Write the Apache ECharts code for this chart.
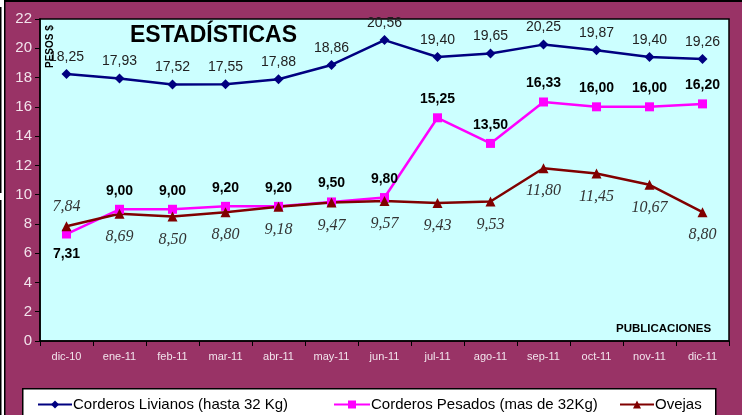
<!DOCTYPE html>
<html><head><meta charset="utf-8">
<script src="https://cdn.jsdelivr.net/npm/echarts@6/dist/echarts.min.js"></script>
<style>html,body{margin:0;padding:0;background:#fff}#c{width:742px;height:415px}</style>
</head><body><div id="c"></div>
<script>
var categories = ['dic-10','ene-11','feb-11','mar-11','abr-11','may-11','jun-11','jul-11','ago-11','sep-11','oct-11','nov-11','dic-11'];
var livianos = [18.25,17.93,17.52,17.55,17.88,18.86,20.56,19.40,19.65,20.25,19.87,19.40,19.26];
var pesados = [7.31,9.00,9.00,9.20,9.20,9.50,9.80,15.25,13.50,16.33,16.00,16.00,16.20];
var ovejas = [7.84,8.69,8.50,8.80,9.18,9.47,9.57,9.43,9.53,11.80,11.45,10.67,8.80];
var names = ['Corderos Livianos (hasta 32 Kg)','Corderos Pesados (mas de 32Kg)','Ovejas'];
var yTicks = [0,22,2];

function fmt(v){ return v.toFixed(2).replace('.', ','); }

var chart = echarts.init(document.getElementById('c'), null, {renderer:'canvas'});
var sans = 'Arial, "Liberation Sans", sans-serif';
var serif = '"Times New Roman", "Liberation Serif", serif';

function mk(arr, firstPos){
  return arr.map(function(v,i){
    var o = {value:v};
    if(i===0 && firstPos){ o.label = firstPos; }
    return o;
  });
}

var option = {
  backgroundColor: '#993366',
  animation: false,
  grid: {left:40, right:13, top:19, bottom:74, show:true, backgroundColor:'#CCFFFF', borderColor:'#000', borderWidth:1.5},
  xAxis: {
    type:'category', data: categories, boundaryGap:true,
    axisLine:{show:true, lineStyle:{color:'#000', width:1.5}},
    axisTick:{show:true, alignWithLabel:false, length:5, lineStyle:{color:'#000'}},
    axisLabel:{color:'#f2e4ec', fontSize:11, fontFamily:sans, margin:10}
  },
  yAxis: {
    type:'value', min:yTicks[0], max:yTicks[1], interval:yTicks[2],
    axisLine:{show:true, lineStyle:{color:'#000', width:1.5}},
    axisTick:{show:true, length:5, lineStyle:{color:'#000'}},
    splitLine:{show:false},
    axisLabel:{color:'#f2e4ec', fontSize:15, fontFamily:sans, margin:8}
  },
  legend: [
    {data:[names[0]], left:32, top:392, itemWidth:34, itemHeight:10, itemGap:4, textStyle:{color:'#000', fontSize:15, fontFamily:sans, padding:[0,0,0,-4]}},
    {data:[names[1]], left:328, top:392, itemWidth:36, itemHeight:10, textStyle:{color:'#000', fontSize:15, fontFamily:sans, padding:[0,0,0,-4]}},
    {data:[names[2]], left:614, top:392, itemWidth:34, itemHeight:10, textStyle:{color:'#000', fontSize:15, fontFamily:sans, padding:[0,0,0,-4]}}
  ],
  graphic: [
    {type:'rect', left:22, top:388, z:-1, shape:{width:693, height:30}, style:{fill:'#fff', stroke:'#000', lineWidth:1.5}},
    {type:'rect', left:0, top:0, shape:{width:4, height:415}, style:{fill:'#fff'}, z:5},
    {type:'rect', left:0, top:7, shape:{width:1.5, height:186}, style:{fill:'#000'}, z:6},
    {type:'rect', left:0, top:200, shape:{width:1.5, height:215}, style:{fill:'#000'}, z:6},
    {type:'rect', left:4, top:0, shape:{width:1.5, height:415}, style:{fill:'#000'}, z:6},
    {type:'rect', left:4, top:0, shape:{width:738, height:2}, style:{fill:'#000'}, z:6},
    {type:'text', left:130, top:24, style:{text:'ESTADÍSTICAS', fill:'#000', font:'bold 23px ' + sans}, z:10},
    {type:'text', x:45, y:68, rotation:Math.PI/2, style:{text:'PESOS $', fill:'#000', font:'bold 10px ' + sans}, z:10},
    {type:'text', left:616, top:323, style:{text:'PUBLICACIONES', fill:'#000', font:'bold 11.5px ' + sans}, z:10}
  ],
  series: [
    {
      name:names[0], type:'line', data: mk(livianos),
      color:'#000080', symbol:'diamond', symbolSize:10,
      lineStyle:{width:2.5, color:'#000080'}, itemStyle:{color:'#000080'},
      label:{show:true, position:'top', distance:5, color:'#222', fontSize:14, fontFamily:sans, formatter:function(p){return fmt(p.value);}}
    },
    {
      name:names[1], type:'line', data: mk(pesados, {position:'bottom', distance:9}),
      color:'#FF00FF', symbol:'rect', symbolSize:9,
      lineStyle:{width:2.5, color:'#FF00FF'}, itemStyle:{color:'#FF00FF'},
      label:{show:true, position:'top', distance:7, color:'#000', fontSize:14, fontWeight:'bold', fontFamily:sans, formatter:function(p){return fmt(p.value);}}
    },
    {
      name:names[2], type:'line', data: mk(ovejas, {position:'top', distance:6}),
      color:'#800000', symbol:'triangle', symbolSize:10,
      lineStyle:{width:2.5, color:'#800000'}, itemStyle:{color:'#800000'},
      label:{show:true, position:'bottom', distance:10, color:'#333', fontSize:16, fontStyle:'italic', fontFamily:serif, formatter:function(p){return fmt(p.value);}}
    }
  ]
};
chart.setOption(option);
</script></body></html>
